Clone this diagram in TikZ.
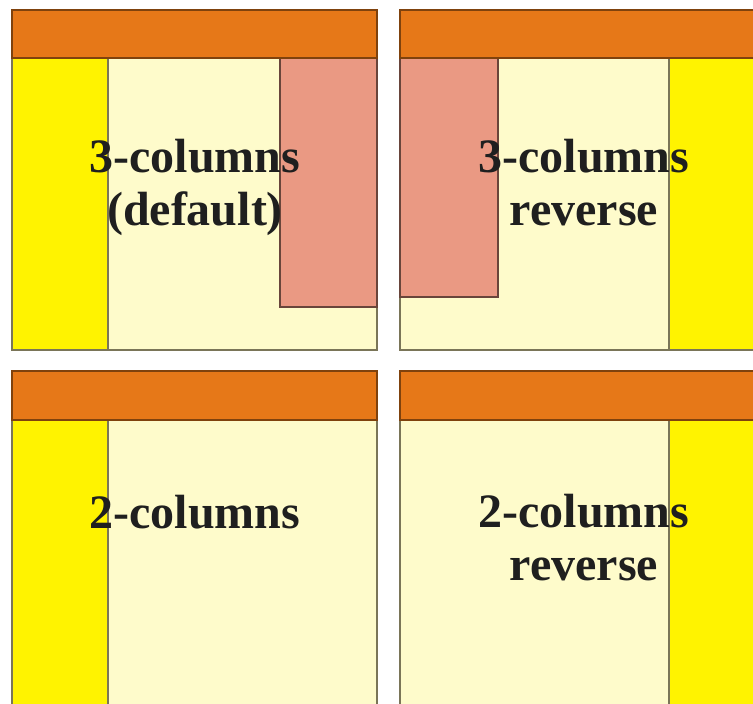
\documentclass[tikz,border=0pt]{standalone}
\usepackage{fontspec}
\setmainfont{Liberation Serif}
\definecolor{hdrorange}{HTML}{E67818}
\definecolor{sideyellow}{HTML}{FFF300}
\definecolor{maincream}{HTML}{FEFBCB}
\definecolor{extrasalmon}{HTML}{EA9983}
\definecolor{edgegray}{HTML}{7A7558}

\begin{document}
\begin{tikzpicture}[x=1pt,y=-1pt,
  edge/.style={draw=edgegray,line width=1.3pt},
  hdr/.style={fill=hdrorange,draw=hdrorange!55!black,line width=1.3pt},
  side/.style={fill=sideyellow,edge},
  body/.style={fill=maincream,edge},
  extra/.style={fill=extrasalmon,draw=extrasalmon!45!black,line width=1.3pt},
  lbl/.style={font=\fontsize{48}{53}\selectfont\bfseries,text=black!88,align=center}]
  \useasboundingbox (0,0) rectangle (753,704);
  \clip (0,0) rectangle (753,704);
  % 3-columns (default)
  \draw[body] (12,58) rectangle (377,350);
  \draw[side] (12,58) rectangle (108,350);
  \draw[extra] (280,58) rectangle (377,307);
  \draw[hdr] (12,10) rectangle (377,58);
  \node[lbl] (threecol) at (195,187) {3-columns\\(default)};
  % 3-columns reverse
  \draw[body] (400,58) rectangle (760,350);
  \draw[side] (669,58) rectangle (760,350);
  \draw[extra] (400,58) rectangle (498,297);
  \draw[hdr] (400,10) rectangle (760,58);
  \node[lbl] (threerev) at (584,183) {3-columns\\reverse};
  % 2-columns
  \draw[body] (12,420) rectangle (377,720);
  \draw[side] (12,420) rectangle (108,720);
  \draw[hdr] (12,371) rectangle (377,420);
  \node[lbl] (twocol) at (195,512) {2-columns};
  % 2-columns reverse
  \draw[body] (400,420) rectangle (760,720);
  \draw[side] (669,420) rectangle (760,720);
  \draw[hdr] (400,371) rectangle (760,420);
  \node[lbl] (tworev) at (584,538) {2-columns\\reverse};
\end{tikzpicture}
\end{document}
